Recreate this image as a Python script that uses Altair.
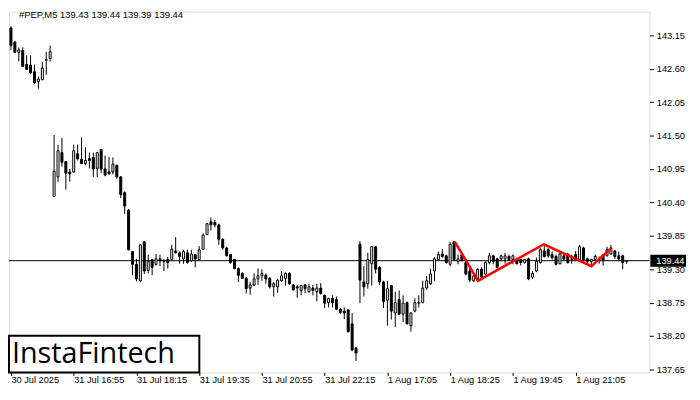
import altair as alt
import pandas as pd

# OHLC of #PEP, M5, bar index 0..157
opens = [143.27, 143.04, 142.87, 142.90, 142.67, 142.66, 142.55, 142.39, 142.42, 142.74,
         142.77, 140.50, 140.82, 141.22, 141.07, 140.90, 140.90, 141.20, 141.11, 141.04,
         141.12, 141.14, 140.96, 141.27, 140.95, 140.90, 140.90, 141.01, 140.82, 140.56,
         140.27, 139.59, 139.38, 139.11, 139.75, 139.28, 139.46, 139.38, 139.47, 139.43,
         139.46, 139.46, 139.60, 139.57, 139.47, 139.57, 139.44, 139.54, 139.46, 139.63,
         139.87, 140.08, 140.07, 140.03, 139.79, 139.65, 139.54, 139.46, 139.31, 139.23,
         139.15, 138.99, 139.04, 139.14, 139.19, 139.20, 139.15, 139.01, 139.01, 139.11,
         139.15, 139.23, 139.04, 139.01, 138.95, 139.04, 138.93, 138.99, 138.93, 138.99,
         138.87, 138.75, 138.82, 138.80, 138.64, 138.61, 138.63, 138.40, 138.00, 139.71,
         139.09, 139.06, 139.39, 139.67, 139.33, 139.09, 138.79, 139.03, 138.58, 138.80,
         138.56, 138.75, 138.37, 138.61, 138.74, 138.75, 138.99, 139.06, 139.27, 139.46,
         139.55, 139.52, 139.38, 139.75, 139.43, 139.54, 139.41, 139.27, 139.11, 139.12,
         139.30, 139.22, 139.41, 139.52, 139.47, 139.47, 139.47, 139.51, 139.46, 139.46,
         139.46, 139.41, 139.47, 139.17, 139.27, 139.41, 139.60, 139.62, 139.54, 139.51,
         139.39, 139.52, 139.55, 139.46, 139.54, 139.46, 139.65, 139.47, 139.43, 139.46,
         139.47, 139.54, 139.52, 139.55, 139.60, 139.52, 139.52, 139.43]
highs = [143.30, 143.06, 142.95, 142.95, 142.82, 142.82, 142.67, 142.47, 142.71, 142.88,
         142.98, 141.51, 141.35, 141.46, 141.08, 140.95, 141.35, 141.35, 141.47, 141.31,
         141.22, 141.22, 141.23, 141.28, 141.17, 141.15, 141.14, 141.02, 140.83, 140.58,
         140.29, 139.60, 139.47, 139.71, 139.76, 139.54, 139.47, 139.55, 139.54, 139.47,
         139.50, 139.70, 139.83, 139.59, 139.62, 139.62, 139.62, 139.55, 139.68, 139.89,
         140.06, 140.15, 140.11, 140.05, 139.81, 139.67, 139.55, 139.47, 139.33, 139.25,
         139.17, 139.09, 139.23, 139.31, 139.30, 139.23, 139.17, 139.09, 139.14, 139.27,
         139.25, 139.25, 139.06, 139.04, 139.04, 139.06, 139.06, 139.04, 139.06, 139.07,
         138.88, 138.83, 138.87, 138.85, 138.66, 138.67, 138.64, 138.58, 138.02, 139.76,
         139.35, 139.57, 139.68, 139.68, 139.35, 139.11, 139.11, 139.04, 138.93, 138.95,
         138.87, 138.77, 138.59, 138.82, 138.87, 139.11, 139.19, 139.31, 139.50, 139.59,
         139.63, 139.54, 139.75, 139.76, 139.54, 139.57, 139.47, 139.35, 139.22, 139.31,
         139.33, 139.43, 139.57, 139.54, 139.49, 139.54, 139.57, 139.54, 139.54, 139.49,
         139.47, 139.47, 139.49, 139.27, 139.49, 139.65, 139.70, 139.65, 139.59, 139.54,
         139.59, 139.54, 139.57, 139.54, 139.60, 139.70, 139.67, 139.49, 139.47, 139.54,
         139.51, 139.55, 139.67, 139.70, 139.62, 139.59, 139.54, 139.44]
lows = [142.91, 142.86, 142.72, 142.63, 142.58, 142.51, 142.35, 142.27, 142.41, 142.50,
        142.72, 140.49, 140.74, 140.99, 140.61, 140.74, 140.89, 141.09, 141.03, 141.01,
        140.96, 140.82, 140.82, 140.88, 140.83, 140.86, 140.86, 140.79, 140.47, 140.21,
        139.61, 139.20, 139.10, 139.09, 139.22, 139.23, 139.20, 139.36, 139.35, 139.27,
        139.31, 139.44, 139.56, 139.39, 139.39, 139.39, 139.42, 139.33, 139.44, 139.62,
        139.86, 139.94, 139.99, 139.70, 139.62, 139.51, 139.39, 139.30, 139.09, 139.14,
        138.90, 138.88, 139.02, 139.04, 139.11, 139.06, 138.98, 138.85, 138.91, 139.09,
        139.03, 139.04, 138.95, 138.83, 138.87, 138.91, 138.91, 138.87, 138.77, 138.88,
        138.66, 138.67, 138.67, 138.63, 138.56, 138.48, 138.26, 137.95, 137.79, 138.74,
        138.85, 138.98, 139.03, 139.23, 139.04, 138.66, 138.37, 138.47, 138.35, 138.55,
        138.43, 138.39, 138.27, 138.59, 138.67, 138.74, 138.96, 139.04, 139.11, 139.44,
        139.49, 139.39, 139.35, 139.44, 139.38, 139.43, 139.20, 139.09, 139.09, 139.11,
        139.15, 139.19, 139.38, 139.38, 139.31, 139.43, 139.39, 139.44, 139.38, 139.38,
        139.36, 139.39, 139.12, 139.14, 139.25, 139.39, 139.49, 139.49, 139.46, 139.36,
        139.38, 139.44, 139.39, 139.39, 139.44, 139.44, 139.41, 139.39, 139.35, 139.44,
        139.39, 139.36, 139.51, 139.54, 139.47, 139.43, 139.30, 139.39]
closes = [142.98, 142.87, 142.91, 142.64, 142.59, 142.53, 142.37, 142.43, 142.61, 142.75,
          142.88, 140.91, 141.25, 141.06, 140.88, 140.87, 141.25, 141.12, 141.04, 141.09,
          141.09, 140.95, 141.22, 140.95, 140.85, 140.87, 141.03, 140.82, 140.53, 140.34,
          139.62, 139.38, 139.14, 139.70, 139.27, 139.43, 139.33, 139.47, 139.44, 139.44,
          139.41, 139.63, 139.57, 139.51, 139.59, 139.41, 139.55, 139.47, 139.62, 139.86,
          140.05, 140.03, 140.03, 139.79, 139.65, 139.52, 139.41, 139.31, 139.20, 139.15,
          138.98, 139.04, 139.14, 139.19, 139.23, 139.14, 139.01, 139.06, 139.12, 139.19,
          139.23, 139.06, 138.96, 138.99, 139.03, 138.98, 139.01, 138.95, 138.99, 138.90,
          138.74, 138.82, 138.75, 138.64, 138.59, 138.58, 138.27, 137.97, 137.92, 139.12,
          139.01, 139.46, 139.67, 139.30, 139.09, 138.77, 138.98, 138.61, 138.75, 138.56,
          138.74, 138.40, 138.58, 138.75, 138.75, 138.99, 139.11, 139.22, 139.47, 139.54,
          139.51, 139.41, 139.71, 139.46, 139.47, 139.44, 139.22, 139.12, 139.19, 139.30,
          139.17, 139.41, 139.52, 139.43, 139.33, 139.52, 139.52, 139.46, 139.52, 139.39,
          139.41, 139.46, 139.14, 139.23, 139.43, 139.62, 139.51, 139.52, 139.49, 139.38,
          139.55, 139.47, 139.41, 139.47, 139.46, 139.67, 139.46, 139.43, 139.46, 139.51,
          139.46, 139.44, 139.62, 139.65, 139.51, 139.47, 139.41, 139.44]

# time-axis labels (bar index -> label)
tick_index = [0, 16, 32, 48, 64, 80, 96, 112, 128, 144]
tick_labels = ["30 Jul 2025", "31 Jul 16:55", "31 Jul 18:15", "31 Jul 19:35", "31 Jul 20:55",
               "31 Jul 22:15", "1 Aug 17:05", "1 Aug 18:25", "1 Aug 19:45", "1 Aug 21:05"]

# price axis labels
price_ticks = [137.65, 138.20, 138.75, 139.30, 139.85, 140.40, 140.95, 141.50, 142.05, 142.60, 143.15]

# current price & pattern line (double top)
last_price = 139.44
pattern_x = [113.2, 119.1, 135.9, 148.0, 153.0]
pattern_y = [139.75, 139.11, 139.71, 139.35, 139.64]

title_text = "#PEP,M5  139.43 139.44 139.39 139.44"
logo_text = "InstaFintech"

W, H = 646, 364
FONT = "Liberation Sans"

df = pd.DataFrame({"i": list(range(len(opens))), "open": opens, "high": highs,
                   "low": lows, "close": closes})
df["up"] = df["close"] >= df["open"]

label_map = "{" + ",".join(f"'{k}':'{v}'" for k, v in zip(tick_index, tick_labels)) + "}"

xs = alt.Scale(domain=[-0.5, 162.8], nice=False, zero=False, padding=0)
ys = alt.Scale(domain=[137.60, 143.54], nice=False, zero=False, padding=0)

x_axis = alt.Axis(values=tick_index, tickCount=40, labelExpr=f"{label_map}[datum.value]",
                  labelAlign="left", tickSize=3, tickColor="black", labelColor="black",
                  labelFont=FONT, labelFontSize=9.3, labelPadding=0, domain=False, grid=False,
                  title=None, labelOverlap=False, labelFlush=False)
y_axis = alt.Axis(values=price_ticks, tickCount=40, format=".2f", orient="right", tickSize=4,
                  tickColor="black", labelColor="black", labelFont=FONT, labelFontSize=9.3,
                  labelPadding=3, domain=False, grid=False, title=None, labelOverlap=False)

base = alt.Chart(df)

wicks = base.mark_rule(color="black", strokeWidth=1).encode(
    x=alt.X("i:Q", scale=xs, axis=x_axis),
    y=alt.Y("low:Q", scale=ys, axis=y_axis),
    y2="high:Q",
)

bodies = base.mark_bar(width=2, stroke="black", strokeWidth=1).encode(
    x=alt.X("i:Q", scale=xs, axis=x_axis),
    y=alt.Y("open:Q", scale=ys, axis=y_axis),
    y2="close:Q",
    fill=alt.Fill("up:N", scale=alt.Scale(domain=[True, False], range=["white", "black"]), legend=None),
)

price_df = pd.DataFrame({"p": [last_price], "t": [f"{last_price:.2f}"]})
hline = alt.Chart(price_df).mark_rule(color="black", strokeWidth=1).encode(
    y=alt.Y("p:Q", scale=ys, axis=y_axis))
price_box = alt.Chart(price_df).mark_rule(color="black", strokeWidth=12, strokeCap="butt").encode(
    y=alt.Y("p:Q", scale=ys, axis=y_axis), x=alt.value(W + 1), x2=alt.value(W + 37))
price_txt = alt.Chart(price_df).mark_text(color="white", font=FONT, fontSize=9.3, align="left",
                                          baseline="middle").encode(
    y=alt.Y("p:Q", scale=ys, axis=y_axis), x=alt.value(W + 7), text="t:N")

pat_df = pd.DataFrame({"x": pattern_x, "y": pattern_y, "o": list(range(len(pattern_x)))})
pattern = alt.Chart(pat_df).mark_line(color="#ff0000", strokeWidth=2.5).encode(
    x=alt.X("x:Q", scale=xs, axis=x_axis), y=alt.Y("y:Q", scale=ys, axis=y_axis), order="o:Q")

title_df = pd.DataFrame({"t": [title_text]})
title = alt.Chart(title_df).mark_text(font=FONT, fontSize=9.5, align="left", baseline="middle",
                                      color="black").encode(
    x=alt.value(10), y=alt.value(3), text="t:N")

logo_df = pd.DataFrame({"t": [logo_text]})
logo_box = alt.Chart(logo_df).mark_rect(fill="white", stroke="black", strokeWidth=2).encode(
    x=alt.value(0), x2=alt.value(192), y=alt.value(327), y2=alt.value(364))
logo = alt.Chart(logo_df).mark_text(font="Open Sans", fontSize=29, align="left", baseline="middle",
                                    color="black").encode(
    x=alt.value(3), y=alt.value(345), text="t:N")

chart = alt.layer(hline, wicks, bodies, pattern, price_box, price_txt, title, logo_box, logo).properties(
    width=W, height=H, padding={"left": 0, "top": 0, "right": 0, "bottom": 0}
).configure_view(stroke="black", strokeWidth=1).configure(background="white")

chart.save("out.html", embed_options={"renderer": "svg", "actions": False})
